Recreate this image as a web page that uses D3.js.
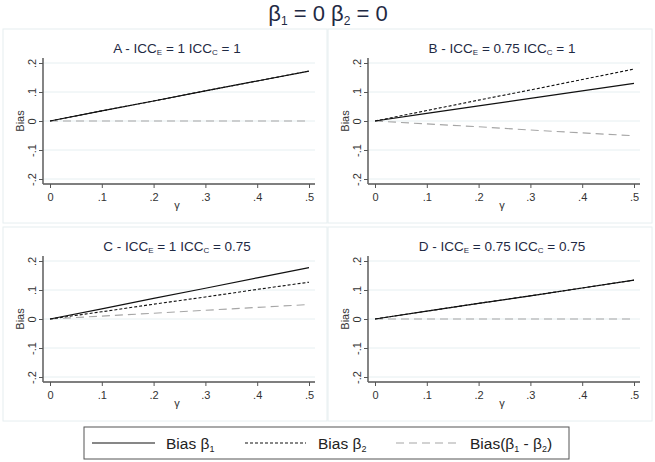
<!DOCTYPE html>
<html><head><meta charset="utf-8">
<script src="https://cdn.jsdelivr.net/npm/d3@7"></script>
<style>body{margin:0;background:#fff;font-family:"Liberation Sans",Arial,sans-serif;}</style>
</head><body>
<svg id="c" width="655" height="462"></svg>
<script>
const gammaVals = [0, 0.1, 0.2, 0.3, 0.4, 0.5];
const xTicks = [0, 0.1, 0.2, 0.3, 0.4, 0.5];
const xTickLabels = ["0", ".1", ".2", ".3", ".4", ".5"];
const yTicks = [-0.2, -0.1, 0, 0.1, 0.2];
const yTickLabels = ["-.2", "-.1", "0", ".1", ".2"];
const panelLetters = ["A", "B", "C", "D"];
const iccE = ["1", "0.75", "1", "0.75"];
const iccC = ["1", "1", "0.75", "0.75"];
// Bias β1 per panel
const biasB1 = [
  [0, 0.035, 0.069, 0.104, 0.138, 0.172],
  [0, 0.026, 0.052, 0.078, 0.104, 0.130],
  [0, 0.035, 0.071, 0.106, 0.142, 0.177],
  [0, 0.027, 0.054, 0.080, 0.107, 0.134]
];
// Bias β2 per panel
const biasB2 = [
  [0, 0.035, 0.069, 0.104, 0.138, 0.172],
  [0, 0.036, 0.072, 0.107, 0.143, 0.179],
  [0, 0.025, 0.051, 0.076, 0.102, 0.127],
  [0, 0.027, 0.054, 0.080, 0.107, 0.134]
];
// Bias(β1 - β2) per panel
const biasDiff = [
  [0, 0, 0, 0, 0, 0],
  [0, -0.010, -0.020, -0.031, -0.041, -0.051],
  [0, 0.010, 0.020, 0.030, 0.040, 0.050],
  [0, 0, 0, 0, 0, 0]
];
const legendLabels = ["Bias β₁", "Bias β₂", "Bias(β₁ - β₂)"];

const svg = d3.select("#c");
const txt = "#333";
const navy = "#1f2a44";

svg.append("text").attr("x", 328).attr("y", 21).attr("text-anchor", "middle")
  .attr("font-size", 22).attr("fill", navy)
  .html('β<tspan font-size="12" dy="4">1</tspan><tspan dy="-4"> = 0 β</tspan><tspan font-size="12" dy="4">2</tspan><tspan dy="-4"> = 0</tspan>');

const panels = [
  {x0: 3, y0: 29, w: 324, h: 194},
  {x0: 328, y0: 29, w: 324, h: 194},
  {x0: 3, y0: 227, w: 324, h: 194},
  {x0: 328, y0: 227, w: 324, h: 194}
];

const styles = [
  {stroke: "#111", dash: null, w: 1.2},
  {stroke: "#111", dash: "3,2", w: 1.1},
  {stroke: "#a6a6a6", dash: "8,5", w: 1.1}
];

panels.forEach((p, i) => {
  const g = svg.append("g").attr("transform", `translate(${p.x0},${p.y0})`);
  g.append("rect").attr("x", 0).attr("y", 0).attr("width", p.w).attr("height", p.h)
    .attr("fill", "#fff").attr("stroke", "#e6eef0").attr("stroke-width", 1);
  const left = 40, right = 312, top = 29, bottom = 155;
  const x = d3.scaleLinear().domain([0, 0.5]).range([47, 306]);
  const y = d3.scaleLinear().domain([-0.2, 0.2]).range([150, 34]);
  // gridlines
  g.selectAll(".grid").data(yTicks).enter().append("line")
    .attr("x1", left).attr("x2", right).attr("y1", d => y(d)).attr("y2", d => y(d))
    .attr("stroke", "#e6eff1").attr("stroke-width", 1);
  // axes
  const xa = g.append("g").attr("transform", `translate(0,${bottom})`)
    .call(d3.axisBottom(x).tickValues(xTicks).tickFormat((d, k) => xTickLabels[k]).tickSize(4).tickSizeOuter(0));
  xa.select(".domain").attr("d", `M${left},0H${right}`).attr("stroke", "#555").attr("stroke-width", 1.3);
  xa.selectAll(".tick line").attr("stroke", "#555");
  xa.selectAll("text").attr("font-size", 11).attr("fill", txt).attr("dy", "0.9em")
    .attr("font-family", "Liberation Sans, Arial, sans-serif");
  const ya = g.append("g").attr("transform", `translate(${left},0)`)
    .call(d3.axisLeft(y).tickValues(yTicks).tickFormat((d, k) => yTickLabels[k]).tickSize(4).tickSizeOuter(0));
  ya.select(".domain").attr("d", `M0,${top}V${bottom}`).attr("stroke", "#666").attr("stroke-width", 1.6);
  ya.selectAll(".tick line").attr("stroke", "#555");
  ya.selectAll("text").attr("font-size", 11).attr("fill", txt)
    .attr("font-family", "Liberation Sans, Arial, sans-serif")
    .attr("text-anchor", "middle").attr("x", 0).attr("dy", 0)
    .attr("transform", "translate(-7,0) rotate(-90)");
  // axis titles
  g.append("text").attr("transform", `translate(21,${y(0)}) rotate(-90)`)
    .attr("text-anchor", "middle").attr("font-size", 11).attr("fill", txt).text("Bias");
  g.append("text").attr("x", (left + right) / 2 - 2).attr("y", 180).attr("text-anchor", "middle")
    .attr("font-size", 11).attr("fill", txt).text("γ");
  // panel title
  g.append("text").attr("x", (left + right) / 2 - 2).attr("y", 24).attr("text-anchor", "middle")
    .attr("font-size", 13.5).attr("fill", navy)
    .html(`${panelLetters[i]} - ICC<tspan font-size="8" dy="2">E</tspan><tspan dy="-2"> = ${iccE[i]} ICC</tspan><tspan font-size="8" dy="2">C</tspan><tspan dy="-2"> = ${iccC[i]}</tspan>`);
  // lines
  const line = d3.line().x((d, k) => x(gammaVals[k])).y(d => y(d));
  [biasDiff[i], biasB2[i], biasB1[i]].forEach((ser, k) => {
    const s = styles[2 - k];
    g.append("path").attr("d", line(ser)).attr("fill", "none")
      .attr("stroke", s.stroke).attr("stroke-width", s.w)
      .attr("stroke-dasharray", s.dash);
  });
});

// legend
const lg = svg.append("g");
lg.append("rect").attr("x", 84).attr("y", 427).attr("width", 485).attr("height", 32)
  .attr("fill", "#fff").attr("stroke", "#555").attr("stroke-width", 1);
const lx = [92, 245, 396];
const lw = [63, 61, 64];
legendLabels.forEach((lab, k) => {
  const s = styles[k];
  lg.append("line").attr("x1", lx[k]).attr("x2", lx[k] + lw[k]).attr("y1", 443).attr("y2", 443)
    .attr("stroke", s.stroke).attr("stroke-width", s.w).attr("stroke-dasharray", s.dash);
});
const legendHtml = [
  'Bias β<tspan font-size="9" dy="3">1</tspan>',
  'Bias β<tspan font-size="9" dy="3">2</tspan>',
  'Bias(β<tspan font-size="9" dy="3">1</tspan><tspan dy="-3"> - β</tspan><tspan font-size="9" dy="3">2</tspan><tspan dy="-3">)</tspan>'
];
const ltx = [166, 318, 470];
legendHtml.forEach((h, k) => {
  lg.append("text").attr("x", ltx[k]).attr("y", 449).attr("font-size", 15.5).attr("fill", "#222")
    .attr("data-label", legendLabels[k]).html(h);
});
</script>
</body></html>
